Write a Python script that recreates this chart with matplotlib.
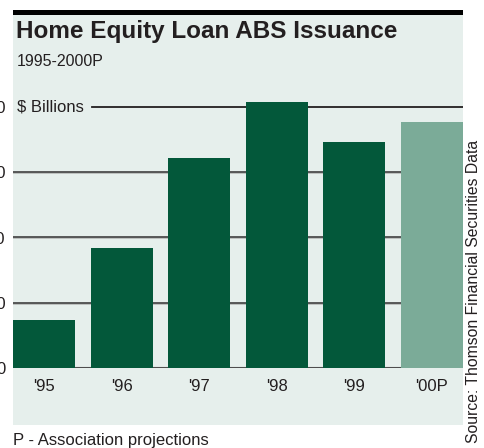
import matplotlib
matplotlib.use("Agg")
import matplotlib.pyplot as plt
from matplotlib.patches import Rectangle

# issuance, $ billions
years = ["'95", "'96", "'97", "'98", "'99", "'00P"]
issuance = [14.7, 36.8, 64.4, 81.6, 69.3, 75.5]
projected = [False, False, False, False, False, True]
yticks = [0, 20, 40, 60, 80]

DARK = "#03583a"
LIGHT = "#7bab98"
PANEL = "#e6efec"
INK = "#231f20"
FONT = ["Liberation Sans", "DejaVu Sans"]

W, H = 484, 448
fig = plt.figure(figsize=(W / 100, H / 100), dpi=100)
fig.patch.set_facecolor("white")


def px(x, y):
    # pixel position (from top-left) -> figure fraction
    return x / W, 1 - y / H


# shaded panel with a black rule across the top
fig.patches.append(Rectangle((13 / W, 1 - 425 / H), 450 / W, 410 / H,
                             transform=fig.transFigure, facecolor=PANEL,
                             edgecolor="none", zorder=0))
fig.patches.append(Rectangle((13 / W, 1 - 15 / H), 450 / W, 5 / H,
                             transform=fig.transFigure, facecolor="black",
                             edgecolor="none", zorder=1))

bottom, top = 367.7, 95
ax = fig.add_axes([13 / W, 1 - bottom / H, 450 / W, (bottom - top) / H])
ax.set_zorder(2)
ax.set_facecolor("none")
ymax = 80 * (bottom - top) / (bottom - 107.3)
ax.set_ylim(0, ymax)
ax.set_xlim(-0.4, len(years) - 0.6)

# grid lines: dark line with a pale shadow underneath
for v in yticks[1:-1]:
    ax.axhline(v - 0.3, color="#b5b8b6", lw=1.2, zorder=1)
    ax.axhline(v, color="#4d4d4d", lw=1.3, zorder=1)
ax.axhline(0, color="#4d4d4d", lw=1.5, zorder=1)
ax.plot([0.1756, 1], [80, 80], color=INK, lw=1.3, zorder=1,
        transform=ax.get_yaxis_transform())

colors = [LIGHT if p else DARK for p in projected]
ax.bar(range(len(years)), issuance, width=0.8, color=colors, zorder=2)

for s in ax.spines.values():
    s.set_visible(False)
ax.set_yticks(yticks)
ax.set_yticklabels([str(v) for v in yticks], family=FONT, fontsize=12, color=INK)
ax.set_xticks(range(len(years)))
ax.set_xticklabels(years, family=FONT, fontsize=12, color=INK)
ax.tick_params(axis="y", length=0, pad=5.4)
ax.tick_params(axis="x", length=0, pad=8)

ax.text(4 / 450, 80, "$ Billions", transform=ax.get_yaxis_transform(),
        family=FONT, fontsize=12, color=INK, va="center", ha="left")

fig.text(*px(16, 37.7), "Home Equity Loan ABS Issuance", family=FONT,
         fontsize=17.5, fontweight="bold", color=INK, va="baseline")
fig.text(*px(17, 65.7), "1995-2000P", family=FONT, fontsize=11.5,
         color=INK, va="baseline")
fig.text(*px(13, 444.5), "P - Association projections", family=FONT,
         fontsize=12, color=INK, va="baseline")
fig.text(*px(473, 443), "Source: Thomson Financial Securities Data",
         family=FONT, fontsize=11.3, color=INK, rotation=90,
         ha="center", va="bottom")

fig.savefig("out.png", dpi=100)
